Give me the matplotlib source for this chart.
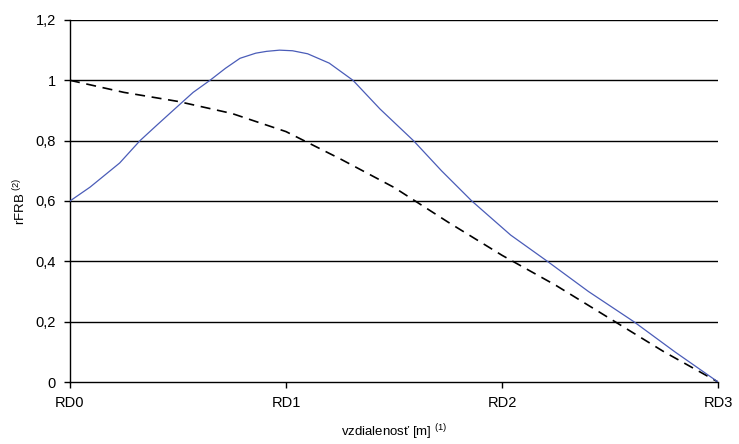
import matplotlib.pyplot as plt

plt.rcParams['font.family'] = ['Liberation Sans', 'DejaVu Sans']
plt.rcParams['mathtext.default'] = 'regular'

# distance along the section, in RD units
x_blue = [0, 0.093, 0.23, 0.324, 0.40, 0.477, 0.57, 0.648, 0.72, 0.787, 0.86, 0.91, 0.97,
          1.03, 1.1, 1.2, 1.31, 1.435, 1.59, 1.72, 1.86, 2.04, 2.21, 2.4, 2.61, 2.8, 3.0]
y_blue = [0.6, 0.646, 0.726, 0.8, 0.85, 0.90, 0.96, 1.0, 1.04, 1.073, 1.09, 1.096, 1.10,
          1.098, 1.088, 1.057, 1.0, 0.905, 0.8, 0.70, 0.6, 0.487, 0.4, 0.3, 0.2, 0.1, 0.0]

x_dash = [0, 0.25, 0.5, 0.75, 1.0, 1.25, 1.5, 1.75, 2.0, 2.25, 2.5, 2.75, 3.0]
y_dash = [1.0, 0.96, 0.93, 0.89, 0.83, 0.74, 0.645, 0.53, 0.42, 0.32, 0.21, 0.10, 0.0]

x_ticks = [0, 1, 2, 3]
x_labels = ['RD0', 'RD1', 'RD2', 'RD3']
y_ticks = [0, 0.2, 0.4, 0.6, 0.8, 1.0, 1.2]
y_labels = ['0', '0,2', '0,4', '0,6', '0,8', '1', '1,2']

fig = plt.figure(figsize=(7.39, 4.44), dpi=100)
ax = fig.add_axes([0.0947, 0.1396, 0.877, 0.8154])

for y in y_ticks[1:]:
    ax.axhline(y, color='black', lw=1.0, zorder=1)

ax.plot(x_blue, y_blue, color='#4a5cb8', lw=0.9, zorder=3)
ax.plot(x_dash, y_dash, color='black', lw=1.2, linestyle=(0, (6, 4)), zorder=2)

ax.set_xlim(0, 3)
ax.set_ylim(0, 1.2)
ax.set_xticks(x_ticks)
ax.set_xticklabels(x_labels)
ax.set_yticks(y_ticks)
ax.set_yticklabels(y_labels)
ax.tick_params(direction='out', length=4, width=1, labelsize=10.5, colors='black', pad=6)

for s in ['top', 'right']:
    ax.spines[s].set_visible(False)
for s in ['left', 'bottom']:
    ax.spines[s].set_linewidth(1.0)

ax.set_xlabel('vzdialenosť [m] $^{(1)}$', fontsize=9.5, labelpad=9)
ax.set_ylabel('rFRB $^{(2)}$', fontsize=9.5, labelpad=5)

fig.savefig('out.png', dpi=100)
